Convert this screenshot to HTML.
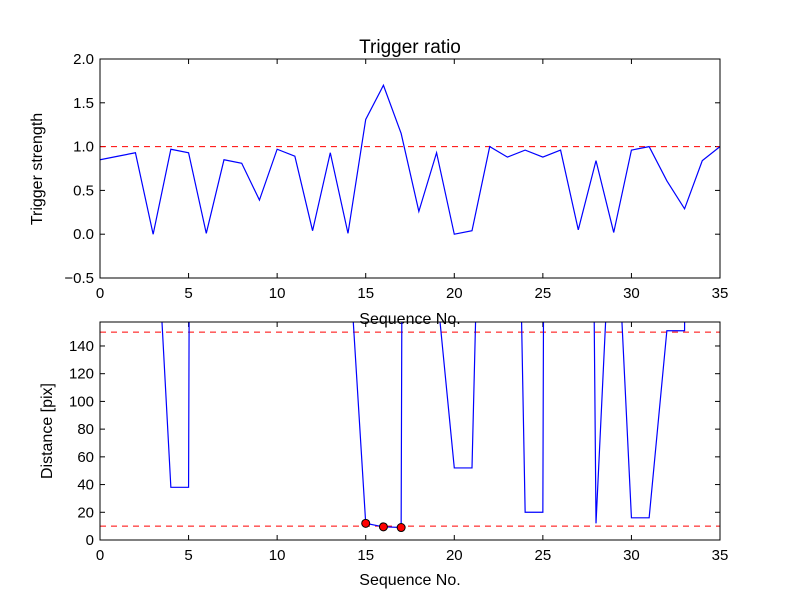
<!DOCTYPE html>
<html><head><meta charset="utf-8"><style>body{margin:0;background:#fff}svg text{font-family:"Liberation Sans","DejaVu Sans",sans-serif;fill:#000}</style></head>
<body>
<svg id="c" width="800" height="600" xmlns="http://www.w3.org/2000/svg"></svg>
<script>
const seq = [0,1,2,3,4,5,6,7,8,9,10,11,12,13,14,15,16,17,18,19,20,21,22,23,24,25,26,27,28,29,30,31,32,33,34,35];
const strength = [0.85,0.89,0.93,0.0,0.97,0.93,0.01,0.85,0.81,0.39,0.97,0.89,0.04,0.93,0.01,1.31,1.70,1.15,0.26,0.93,0.0,0.04,1.0,0.88,0.96,0.88,0.96,0.05,0.84,0.02,0.96,1.0,0.61,0.29,0.84,1.0];
const distance = [1000,1000,1000,276,38,38,4000,1000,1000,1000,1000,1000,1000,1000,219,12,9.5,9,4000,183,52,52,577,705,20,20,4000,1462,12,280,16,16,151,151,4000,4000];
const matchSeq = [15,16,17];
const matchDist = [12,9.5,9];
const xTicks = [0,5,10,15,20,25,30,35];
const yTicksTop = [-0.5,0.0,0.5,1.0,1.5,2.0];
const yTicksBot = [0,20,40,60,80,100,120,140];
const thrTop = 1.0, thrBot = [10,150];

const svg = document.getElementById('c');
const NS = 'http://www.w3.org/2000/svg';
function mk(t, a, parent){const e=document.createElementNS(NS,t);for(const k in a)e.setAttribute(k,a[k]);(parent||svg).appendChild(e);return e;}

function panel(name, L, T, R, B, ymin, ymax, yt, ydec){
  const g = mk('g', {});
  
  
  const sx = v => L + (v-0)/(35-0)*(R-L);
  const sy = v => B - (v-ymin)/(ymax-ymin)*(B-T);
  const clipId = 'clip-'+name;
  const cp = mk('clipPath', {id: clipId}, g);
  mk('rect', {x:L, y:T, width:R-L, height:B-T}, cp);
  for (const v of xTicks){
    const x = sx(v);
    mk('line',{x1:x,x2:x,y1:B,y2:B-5,stroke:'#000'},g);
    mk('line',{x1:x,x2:x,y1:T,y2:T+5,stroke:'#000'},g);
    const t = mk('text',{x:x,y:B+20,'text-anchor':'middle','font-size':'15'},g);
    t.textContent = v;
    
    
  }
  for (const v of yt){
    const y = sy(v);
    mk('line',{x1:L,x2:L+5,y1:y,y2:y,stroke:'#000'},g);
    mk('line',{x1:R,x2:R-5,y1:y,y2:y,stroke:'#000'},g);
    const t = mk('text',{x:L-6,y:y+5,'text-anchor':'end','font-size':'15'},g);
    t.textContent = ydec ? (v<0?'\u2212'+Math.abs(v).toFixed(1):v.toFixed(1)) : v;
    
    
  }
  return {g, sx, sy, clipId};
}

const p1 = panel('strength-panel', 100, 59, 720, 278, -0.5, 2.0, yTicksTop, true);
const th1 = mk('line',{x1:100,x2:720,y1:p1.sy(thrTop),y2:p1.sy(thrTop),stroke:'#f00','stroke-dasharray':'6,5'},p1.g);


const l1 = mk('polyline',{points:seq.map((s,i)=>p1.sx(s)+','+p1.sy(strength[i])).join(' '),fill:'none',stroke:'#00f','stroke-width':'1.2','clip-path':'url(#'+p1.clipId+')'},p1.g);


mk('rect',{x:100,y:59,width:620,height:219,fill:'none',stroke:'#000'},p1.g);
const tt = mk('text',{x:410,y:53,'text-anchor':'middle','font-size':'19'}); tt.textContent='Trigger ratio';
 
const yl1 = mk('text',{x:42,y:169,'text-anchor':'middle','font-size':'16',transform:'rotate(-90 42 169)'}); yl1.textContent='Trigger strength';
 
const xl1 = mk('text',{x:410,y:324,'text-anchor':'middle','font-size':'16'}); xl1.textContent='Sequence No.';
 

const p2 = panel('distance-panel', 100, 322, 720, 540, 0, 157.3, yTicksBot, false);
for (const v of thrBot){
  const l = mk('line',{x1:100,x2:720,y1:p2.sy(v),y2:p2.sy(v),stroke:'#f00','stroke-dasharray':'6,5'},p2.g);
  
  
}
const l2 = mk('polyline',{points:seq.map((s,i)=>p2.sx(s)+','+p2.sy(distance[i])).join(' '),fill:'none',stroke:'#00f','stroke-width':'1.2','clip-path':'url(#'+p2.clipId+')'},p2.g);


matchSeq.forEach((s,i)=>{
  const c = mk('circle',{cx:p2.sx(s),cy:p2.sy(matchDist[i]),r:4,fill:'#f00',stroke:'#000','stroke-width':'1'},p2.g);
  
  
});
mk('rect',{x:100,y:322,width:620,height:218,fill:'none',stroke:'#000'},p2.g);
const yl2 = mk('text',{x:52,y:431,'text-anchor':'middle','font-size':'16',transform:'rotate(-90 52 431)'}); yl2.textContent='Distance [pix]';
 
const xl2 = mk('text',{x:410,y:585,'text-anchor':'middle','font-size':'16'}); xl2.textContent='Sequence No.';
 
</script>
</body></html>
